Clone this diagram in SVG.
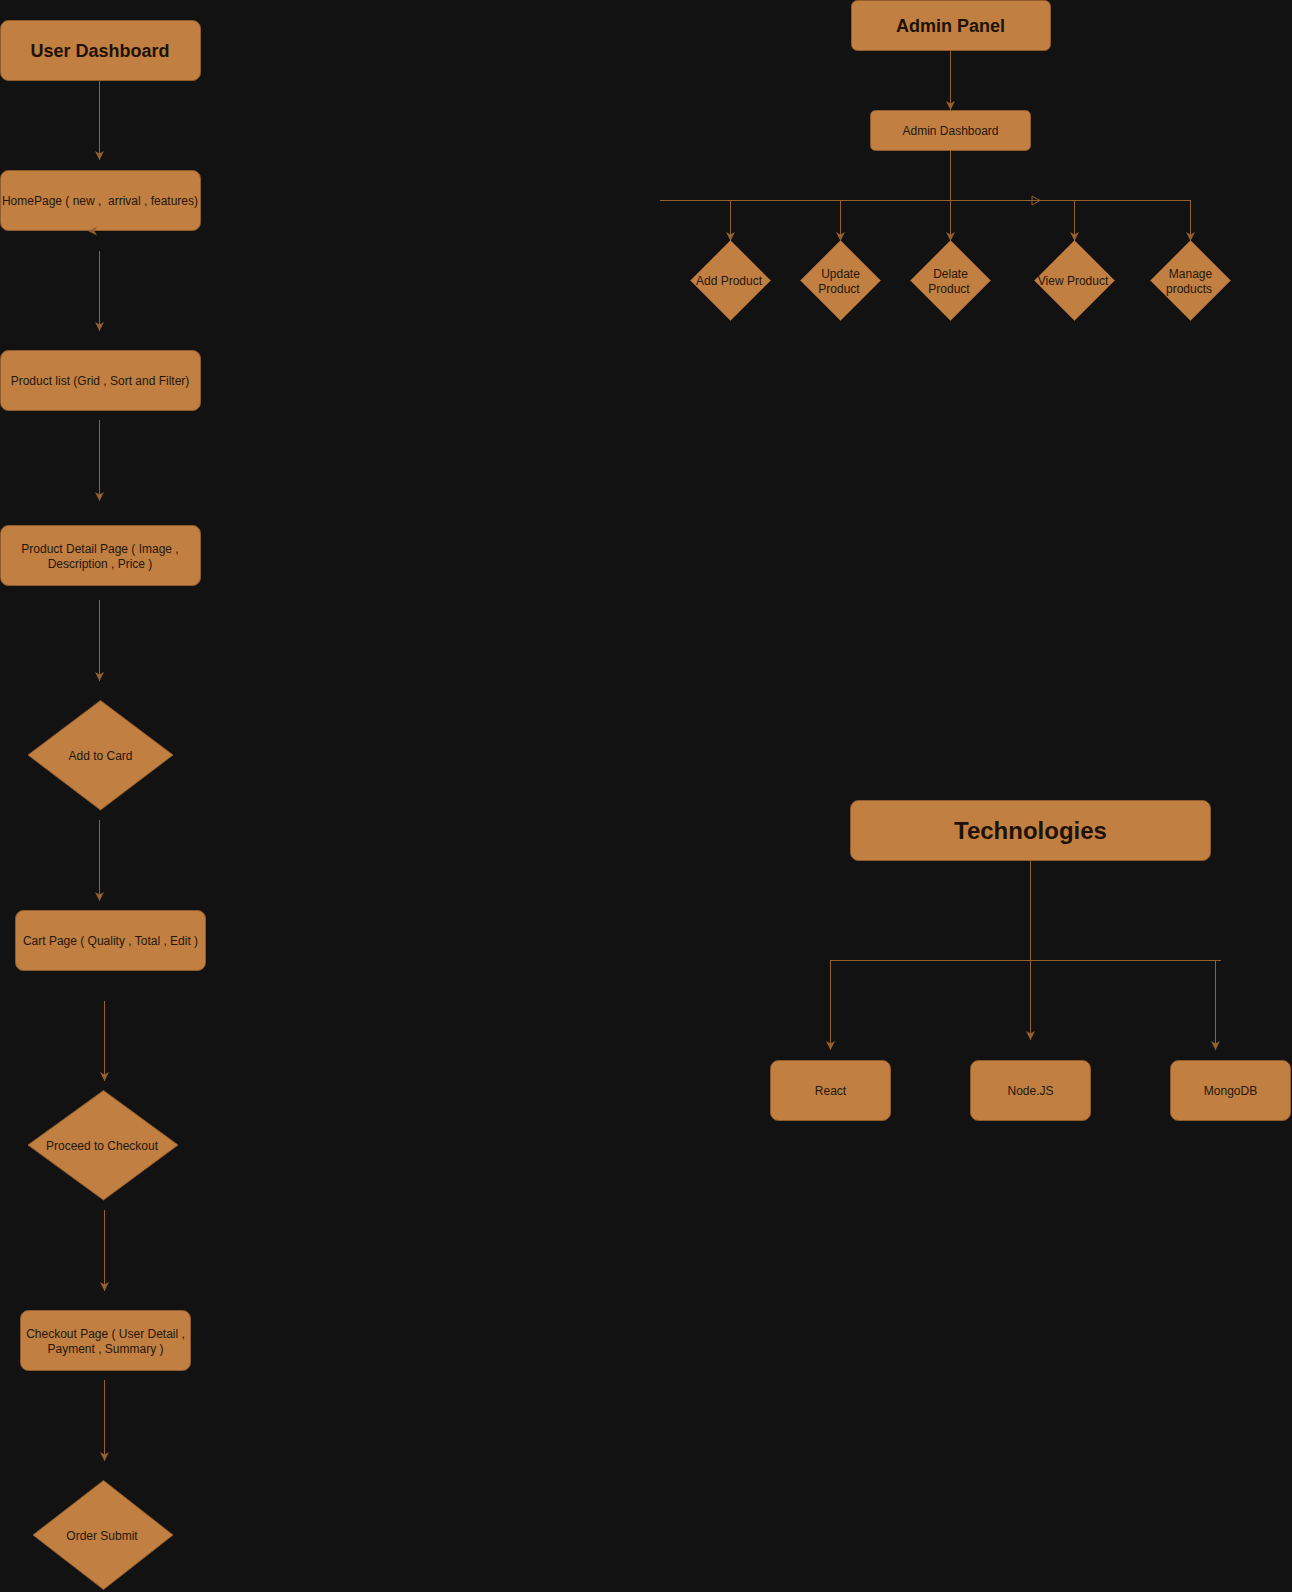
<svg xmlns="http://www.w3.org/2000/svg" width="1292" height="1592" viewBox="0 0 1292 1592">
  <style>
    .box { fill: #c17f42; stroke: #8f5b2b; stroke-width: 1; }
    .lbl { font-family: "Liberation Sans", Arial, sans-serif; font-size: 12px; fill: #24170a; text-anchor: middle; white-space: pre; }
    .title { font-family: "Liberation Sans", Arial, sans-serif; font-weight: bold; fill: #1e1206; text-anchor: middle; }
    .edge { fill: none; stroke: #94602d; stroke-width: 1; }
  </style>
  <defs>
    <marker id="arrow" markerUnits="userSpaceOnUse" markerWidth="12" markerHeight="12" refX="9" refY="4.5" orient="auto">
      <path d="M0,0 L9,4.5 L0,9 L2.5,4.5 Z" fill="#94602d"/>
    </marker>
  </defs>

  <rect width="1292" height="1592" fill="#121212"/>

  <!-- user flow nodes -->
  <g id="user-dashboard">
    <rect class="box" x="0.5" y="20.5" width="200" height="60" rx="8"/>
    <text class="title" x="100" y="57" font-size="18">User Dashboard</text>
  </g>
  <g id="homepage">
    <rect class="box" x="0.5" y="170.5" width="200" height="60" rx="8"/>
    <text class="lbl" x="100" y="205">HomePage ( new ,  arrival , features)</text>
  </g>
  <g id="product-list">
    <rect class="box" x="0.5" y="350.5" width="200" height="60" rx="8"/>
    <text class="lbl" x="100" y="385">Product list (Grid , Sort and Filter)</text>
  </g>
  <g id="product-detail">
    <rect class="box" x="0.5" y="525.5" width="200" height="60" rx="8"/>
    <text class="lbl" x="100" y="553">Product Detail Page ( Image ,</text>
    <text class="lbl" x="100" y="568">Description , Price )</text>
  </g>
  <g id="add-to-card">
    <polygon class="box" points="100.5,700.5 173,755 100.5,810 28,755"/>
    <text class="lbl" x="100.5" y="760">Add to Card</text>
  </g>
  <g id="cart-page">
    <rect class="box" x="15.5" y="910.5" width="190" height="60" rx="8"/>
    <text class="lbl" x="110.5" y="945">Cart Page ( Quality , Total , Edit )</text>
  </g>
  <g id="proceed-checkout">
    <polygon class="box" points="103.5,1090.5 178,1145 103.5,1200 28,1145"/>
    <text class="lbl" x="102" y="1150">Proceed to Checkout</text>
  </g>
  <g id="checkout-page">
    <rect class="box" x="20.5" y="1310.5" width="170" height="60" rx="8"/>
    <text class="lbl" x="105.5" y="1338">Checkout Page ( User Detail ,</text>
    <text class="lbl" x="105.5" y="1353">Payment , Summary )</text>
  </g>
  <g id="order-submit">
    <polygon class="box" points="103.5,1480.5 173,1535 103.5,1589.5 33,1535"/>
    <text class="lbl" x="102" y="1540">Order Submit</text>
  </g>

  <!-- admin nodes -->
  <g id="admin-panel">
    <rect class="box" x="851.5" y="0.5" width="199" height="50" rx="6"/>
    <text class="title" x="950.5" y="32" font-size="18">Admin Panel</text>
  </g>
  <g id="admin-dashboard">
    <rect class="box" x="870.5" y="110.5" width="160" height="40" rx="5"/>
    <text class="lbl" x="950.5" y="135">Admin Dashboard</text>
  </g>
  <g id="add-product">
    <polygon class="box" points="730.5,240.5 770.5,280.5 730.5,320.5 690.5,280.5"/>
    <text class="lbl" x="729" y="285">Add Product</text>
  </g>
  <g id="update-product">
    <polygon class="box" points="840.5,240.5 880.5,280.5 840.5,320.5 800.5,280.5"/>
    <text class="lbl" x="840.5" y="278">Update</text>
    <text class="lbl" x="839" y="293">Product</text>
  </g>
  <g id="delate-product">
    <polygon class="box" points="950.5,240.5 990.5,280.5 950.5,320.5 910.5,280.5"/>
    <text class="lbl" x="950.5" y="278">Delate</text>
    <text class="lbl" x="949" y="293">Product</text>
  </g>
  <g id="view-product">
    <polygon class="box" points="1074.5,240.5 1114.5,280.5 1074.5,320.5 1034.5,280.5"/>
    <text class="lbl" x="1073" y="285">View Product</text>
  </g>
  <g id="manage-products">
    <polygon class="box" points="1190.5,240.5 1230.5,280.5 1190.5,320.5 1150.5,280.5"/>
    <text class="lbl" x="1190.5" y="278">Manage</text>
    <text class="lbl" x="1189" y="293">products</text>
  </g>

  <!-- technology nodes -->
  <g id="technologies">
    <rect class="box" x="850.5" y="800.5" width="360" height="60" rx="8"/>
    <text class="title" x="1030.5" y="839" font-size="24">Technologies</text>
  </g>
  <g id="react">
    <rect class="box" x="770.5" y="1060.5" width="120" height="60" rx="8"/>
    <text class="lbl" x="830.5" y="1095">React</text>
  </g>
  <g id="nodejs">
    <rect class="box" x="970.5" y="1060.5" width="120" height="60" rx="8"/>
    <text class="lbl" x="1030.5" y="1095">Node.JS</text>
  </g>
  <g id="mongodb">
    <rect class="box" x="1170.5" y="1060.5" width="120" height="60" rx="8"/>
    <text class="lbl" x="1230.5" y="1095">MongoDB</text>
  </g>

  <!-- connectors -->
  <g id="connectors">
    <!-- user flow -->
    <line class="edge" x1="99.5" y1="81" x2="99.5" y2="160" marker-end="url(#arrow)"/>
    <line class="edge" x1="99.5" y1="251" x2="99.5" y2="331" marker-end="url(#arrow)"/>
    <line class="edge" x1="99.5" y1="420" x2="99.5" y2="501" marker-end="url(#arrow)"/>
    <line class="edge" x1="99.5" y1="600" x2="99.5" y2="681" marker-end="url(#arrow)"/>
    <line class="edge" x1="99.5" y1="820" x2="99.5" y2="901" marker-end="url(#arrow)"/>
    <line class="edge" x1="104.5" y1="1001" x2="104.5" y2="1081" marker-end="url(#arrow)"/>
    <line class="edge" x1="104.5" y1="1210" x2="104.5" y2="1291" marker-end="url(#arrow)"/>
    <line class="edge" x1="104.5" y1="1380" x2="104.5" y2="1461" marker-end="url(#arrow)"/>
    <!-- stray arrowhead on the homepage box edge -->
    <path d="M88,231 L97,226.5 L94.5,231 L97,235.5 Z" fill="#94602d"/>

    <!-- admin flow -->
    <line class="edge" x1="950.5" y1="51" x2="950.5" y2="110" marker-end="url(#arrow)"/>
    <line class="edge" x1="950.5" y1="151" x2="950.5" y2="200"/>
    <line class="edge" x1="660" y1="200.5" x2="1191" y2="200.5"/>
    <path d="M1032,196 L1040,200.5 L1032,205 Z" fill="none" stroke="#94602d" stroke-width="1"/>
    <line class="edge" x1="730.5" y1="200" x2="730.5" y2="241" marker-end="url(#arrow)"/>
    <line class="edge" x1="840.5" y1="200" x2="840.5" y2="241" marker-end="url(#arrow)"/>
    <line class="edge" x1="950.5" y1="200" x2="950.5" y2="241" marker-end="url(#arrow)"/>
    <line class="edge" x1="1074.5" y1="200" x2="1074.5" y2="241" marker-end="url(#arrow)"/>
    <line class="edge" x1="1190.5" y1="200" x2="1190.5" y2="241" marker-end="url(#arrow)"/>

    <!-- technologies -->
    <line class="edge" x1="1030.5" y1="861" x2="1030.5" y2="1040" marker-end="url(#arrow)"/>
    <line class="edge" x1="830" y1="960.5" x2="1221" y2="960.5"/>
    <line class="edge" x1="830.5" y1="960" x2="830.5" y2="1050" marker-end="url(#arrow)"/>
    <line class="edge" x1="1215.5" y1="960" x2="1215.5" y2="1050" marker-end="url(#arrow)"/>
  </g>
</svg>
